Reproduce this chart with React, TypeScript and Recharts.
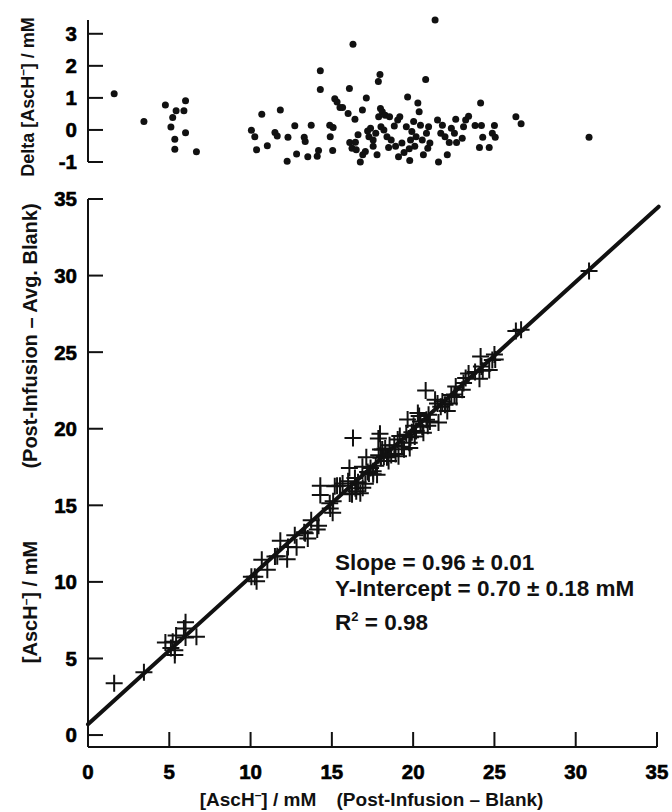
import React from "react"
import { ScatterChart, Scatter, XAxis, YAxis, ReferenceLine } from "recharts"

// [AscH-] post-infusion minus blank (x), one entry per sample
const blankX = [
  1.61, 3.44, 4.76, 6.0, 5.42, 5.9, 5.21, 5.1, 5.34, 6.0, 5.34, 6.67,
  10.05, 10.26, 10.37, 10.69, 11.03, 11.83, 11.5, 11.64, 12.3, 12.25, 12.72, 12.83,
  13.3, 13.36, 13.52, 13.73, 14.1, 14.18, 14.29, 14.29, 14.87, 14.9, 15.05, 15.08,
  15.18, 15.32, 15.5, 15.66, 16.0, 16.08, 16.3, 16.1, 16.24, 16.42, 16.45, 16.5,
  16.61, 16.75, 16.88, 16.9, 17.06, 17.12, 17.2, 17.28, 17.38, 17.54, 17.54, 17.7,
  17.78, 17.86, 17.96, 17.88, 17.99, 18.02, 18.1, 18.2, 18.28, 18.39, 18.49, 18.55,
  18.65, 18.84, 18.92, 19.05, 19.18, 19.1, 19.31, 19.44, 19.58, 19.66, 19.76, 19.79,
  19.84, 19.92, 20.03, 20.1, 20.18, 20.29, 20.37, 20.45, 20.56, 20.63, 20.77, 20.82,
  20.9, 20.95, 21.03, 21.35, 21.5, 21.56, 21.7, 21.8, 21.96, 22.1, 22.22, 22.35,
  22.54, 22.62, 22.67, 23.02, 23.1, 23.23, 23.41, 23.81, 24.08, 24.15, 24.2, 24.28,
  24.68, 24.87, 25.0, 25.05, 26.32, 26.64, 30.82,
]

// [AscH-] post-infusion minus average blank (y)
const avgBlankY = [
  3.38, 4.1, 6.05, 7.37, 6.5, 6.96, 6.09, 5.69, 5.54, 6.37, 5.23, 6.42,
  10.34, 10.34, 10.04, 11.45, 10.8, 12.68, 11.66, 11.68, 12.28, 11.48, 13.04, 12.27,
  13.24, 13.17, 12.84, 14.03, 13.42, 13.67, 16.27, 15.68, 15.13, 14.79, 14.51, 15.26,
  16.24, 16.28, 16.28, 16.43, 16.57, 17.43, 19.4, 15.77, 15.72, 16.79, 16.11, 15.92,
  16.5, 15.78, 17.52, 16.15, 16.41, 18.14, 17.18, 17.08, 17.43, 17.23, 17.03, 17.59,
  17.0, 19.36, 19.67, 18.27, 18.64, 18.1, 18.65, 18.17, 18.71, 18.14, 17.9, 18.92,
  18.29, 18.91, 18.35, 19.3, 19.52, 18.2, 18.83, 18.66, 19.6, 20.6, 19.08, 18.75,
  19.44, 19.77, 20.19, 19.49, 19.86, 21.02, 20.83, 20.48, 20.13, 19.73, 22.5, 20.59,
  20.19, 20.91, 20.48, 21.9, 21.65, 20.4, 21.43, 21.78, 21.57, 21.15, 21.64, 22.21,
  22.24, 22.75, 22.07, 22.54, 22.98, 23.31, 23.6, 23.7, 23.27, 24.72, 24.07, 23.78,
  23.84, 24.48, 24.84, 24.52, 26.38, 26.46, 30.3,
]

// residuals from the fit (top panel)
const deltaY = [
  1.13, 0.26, 0.78, 0.91, 0.6, 0.6, 0.39, 0.09, -0.29, -0.09, -0.6, -0.68,
  -0.01, -0.21, -0.62, 0.49, -0.49, 0.62, -0.08, -0.19, -0.23, -0.98, 0.13, -0.75,
  -0.23, -0.36, -0.84, 0.15, -0.82, -0.64, 1.85, 1.26, 0.15, -0.21, -0.64, 0.08,
  0.97, 0.87, 0.7, 0.7, 0.51, 1.29, 2.67, -0.39, -0.57, 0.33, -0.38, -0.62,
  -0.15, -1.0, 0.62, -0.77, -0.67, 1.0, -0.03, -0.21, 0.05, -0.31, -0.51, -0.1,
  -0.77, 1.51, 1.73, 0.41, 0.67, 0.1, 0.57, 0.0, 0.46, -0.21, -0.55, 0.41,
  -0.31, 0.12, -0.51, 0.31, 0.41, -0.84, -0.41, -0.7, 0.1, 1.03, -0.59, -0.95,
  -0.31, -0.05, 0.26, -0.51, -0.21, 0.84, 0.57, 0.15, -0.31, -0.77, 1.57, -0.1,
  -0.57, 0.1, -0.41, 3.43, 0.31, -1.0, -0.1, 0.15, -0.21, -0.77, -0.39, 0.05,
  -0.1, 0.33, -0.39, -0.26, 0.1, 0.31, 0.43, 0.14, -0.55, 0.84, 0.14, -0.23,
  -0.55, -0.1, 0.14, -0.23, 0.41, 0.19, -0.23,
]

const xTicks = [0, 5, 10, 15, 20, 25, 30, 35]
const yTicks = [0, 5, 10, 15, 20, 25, 30, 35]
const deltaTicks = [-1, 0, 1, 2, 3]
const fitLine = [
  { x: 0, y: 0.7 },
  { x: 35.1, y: 34.5 },
]
const fitLabels = ["Slope = 0.96 ± 0.01", "Y-Intercept = 0.70 ± 0.18 mM", " = 0.98"]

const mainData = blankX.map((x, i) => ({ x, y: avgBlankY[i] }))
const deltaData = blankX.map((x, i) => ({ x, y: deltaY[i] }))

const INK = "#111"
const FONT = "'Liberation Sans', Arial, sans-serif"
const bold = { fontFamily: FONT, fontWeight: 700 }

const Cross = (props: any) => {
  const { cx, cy } = props
  if (cx == null || cy == null) return null
  return (
    <path
      d={`M${cx - 8.5},${cy}H${cx + 8.5}M${cx},${cy - 8.5}V${cy + 8.5}`}
      stroke={INK}
      strokeWidth={2}
      fill="none"
    />
  )
}

const Dot = (props: any) => {
  const { cx, cy } = props
  if (cx == null || cy == null) return null
  return <circle cx={cx} cy={cy} r={3.5} fill={INK} />
}

// tick label drawn as its own element so nothing from the axis leaks into it
const TickLabel = ({ x, y, anchor, value }: any) => (
  <text
    x={x}
    y={y}
    dy="0.36em"
    textAnchor={anchor}
    fontFamily="Liberation Sans"
    fontWeight="bold"
    fontSize={20.5}
    fill="#000"
    stroke="#000"
    strokeWidth={0.6}
  >
    {String(value)}
  </text>
)

const YTick = (props: any) => {
  const { x, y, payload } = props
  return (
    <g>
      <line x1={x} y1={y} x2={x + 15} y2={y} stroke={INK} strokeWidth={2} />
      <TickLabel x={x - 11} y={y} anchor="end" value={payload.value} />
    </g>
  )
}

const XTick = (props: any) => {
  const { x, y, payload } = props
  return (
    <g>
      {payload.value !== 0 && (
        <line x1={x} y1={y} x2={x} y2={y - 15} stroke={INK} strokeWidth={2} />
      )}
      <TickLabel x={x} y={y + 25} anchor="middle" value={payload.value} />
    </g>
  )
}

const Minus = () => (
  <>
    <tspan dy={-7} fontSize={12}>
      –
    </tspan>
    <tspan dy={7}>]</tspan>
  </>
)

export default function App() {
  return (
    <div style={{ position: "absolute", left: 0, top: 0, width: 672, height: 812, background: "#fff" }}>
      <div style={{ position: "absolute", left: 0, top: 0 }}>
        <ScatterChart width={672} height={180} margin={{ top: 20, right: 15, bottom: 18, left: 0 }}>
          <XAxis type="number" dataKey="x" domain={[0, 35]} hide />
          <YAxis
            type="number"
            dataKey="y"
            domain={[-1, 3.43]}
            ticks={deltaTicks}
            width={88}
            tickSize={0}
            tickMargin={0}
            tickLine={false}
            axisLine={{ stroke: INK, strokeWidth: 2 }}
            tick={YTick}
          />
          <Scatter data={deltaData} shape={Dot} isAnimationActive={false} />
        </ScatterChart>
      </div>
      <div style={{ position: "absolute", left: 0, top: 180 }}>
        <ScatterChart width={672} height={632} margin={{ top: 19, right: 15, bottom: 0, left: 0 }}>
          <XAxis
            type="number"
            dataKey="x"
            domain={[0, 35]}
            ticks={xTicks}
            height={65}
            allowDataOverflow
            tickSize={0}
            tickMargin={0}
            tickLine={false}
            axisLine={{ stroke: INK, strokeWidth: 2 }}
            tick={XTick}
          />
          <YAxis
            type="number"
            dataKey="y"
            domain={[-0.78, 35]}
            ticks={yTicks}
            width={88}
            allowDataOverflow
            tickSize={0}
            tickMargin={0}
            tickLine={false}
            axisLine={{ stroke: INK, strokeWidth: 2 }}
            tick={YTick}
          />
          <Scatter data={mainData} shape={Cross} isAnimationActive={false} />
          <ReferenceLine
            segment={fitLine}
            stroke={INK}
            strokeWidth={4}
            strokeLinecap="round"
            ifOverflow="visible"
          />
        </ScatterChart>
      </div>
      <svg
        width={672}
        height={812}
        style={{ position: "absolute", left: 0, top: 0, pointerEvents: "none", ...bold }}
        fill={INK}
      >
        <text transform="rotate(-90 28 97)" x={28} y={97} dy="0.36em" textAnchor="middle" fontSize={18}>
          Delta [AscH<Minus /> / mM
        </text>
        <text transform="rotate(-90 30 602)" x={30} y={602} dy="0.36em" textAnchor="middle" fontSize={20}>
          [AscH<Minus /> / mM
        </text>
        <text transform="rotate(-90 30 336)" x={30} y={336} dy="0.36em" textAnchor="middle" fontSize={20}>
          (Post-Infusion – Avg. Blank)
        </text>
        <text x={258} y={799} dy="0.36em" textAnchor="middle" fontSize={19}>
          [AscH<Minus /> / mM
        </text>
        <text x={440} y={799} dy="0.36em" textAnchor="middle" fontSize={19}>
          (Post-Infusion – Blank)
        </text>
        <text x={335} y={562} dy="0.36em" fontSize={22.5}>
          {fitLabels[0]}
        </text>
        <text x={335} y={588} dy="0.36em" fontSize={22.5}>
          {fitLabels[1]}
        </text>
        <text x={335} y={622} dy="0.36em" fontSize={22.5}>
          R
          <tspan dy={-9} fontSize={13}>
            2
          </tspan>
          <tspan dy={9}>{fitLabels[2]}</tspan>
        </text>
      </svg>
    </div>
  )
}
